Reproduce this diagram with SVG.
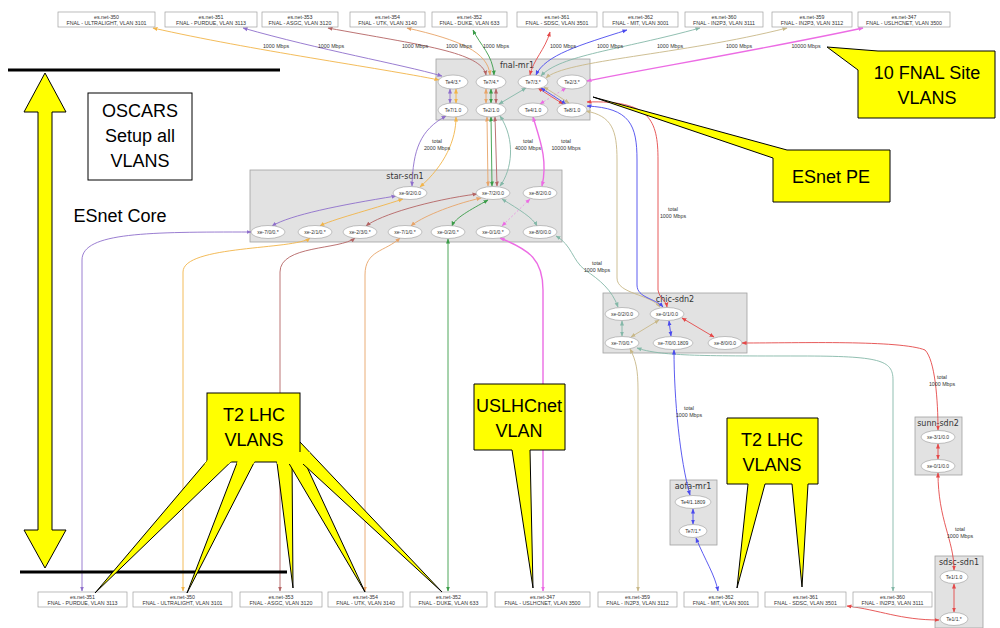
<svg xmlns="http://www.w3.org/2000/svg" width="1000" height="628" viewBox="0 0 1000 628">
<style>
.e{fill:none;stroke-width:0.9}
.ul{stroke:#f2b448}.pu{stroke:#8f6fcc}.as{stroke:#b46464}.ut{stroke:#e8a468}.du{stroke:#3a9c48}
.sd{stroke:#e44848}.mi{stroke:#4a4aee}.i1{stroke:#84b8a8}.i2{stroke:#c8b888}.us{stroke:#ec6ce4;stroke-width:1.4}
.cl{fill:#e2e2e2;stroke:#a0a0a0;stroke-width:0.8}
.el{fill:#fff;stroke:#9a9a9a;stroke-width:0.6}
.bx{fill:#fff;stroke:#a0a0a0;stroke-width:0.7}
.t{font-family:"Liberation Sans",Arial,sans-serif;font-size:5px;fill:#333;text-anchor:middle}
.b{font-family:"Liberation Sans",Arial,sans-serif;font-size:5.3px;fill:#333;text-anchor:middle}
.c{font-family:"DejaVu Sans","Liberation Sans",sans-serif;font-size:8px;fill:#333;text-anchor:middle}
.lb{font-family:"Liberation Sans",Arial,sans-serif;font-size:5.3px;fill:#333;text-anchor:middle}
.y{fill:#ffff00;stroke:#000;stroke-width:1}
.a{font-family:"Liberation Sans",Arial,sans-serif;font-size:18px;fill:#000;text-anchor:middle}
</style>
<defs>
<marker id="m-ul" viewBox="0 0 10 10" refX="9" refY="5" markerUnits="userSpaceOnUse" markerWidth="5" markerHeight="5" orient="auto-start-reverse"><path d="M0,1L10,5L0,9z" fill="#f2b448"/></marker>
<marker id="m-pu" viewBox="0 0 10 10" refX="9" refY="5" markerUnits="userSpaceOnUse" markerWidth="5" markerHeight="5" orient="auto-start-reverse"><path d="M0,1L10,5L0,9z" fill="#8f6fcc"/></marker>
<marker id="m-as" viewBox="0 0 10 10" refX="9" refY="5" markerUnits="userSpaceOnUse" markerWidth="5" markerHeight="5" orient="auto-start-reverse"><path d="M0,1L10,5L0,9z" fill="#b46464"/></marker>
<marker id="m-ut" viewBox="0 0 10 10" refX="9" refY="5" markerUnits="userSpaceOnUse" markerWidth="5" markerHeight="5" orient="auto-start-reverse"><path d="M0,1L10,5L0,9z" fill="#e8a468"/></marker>
<marker id="m-du" viewBox="0 0 10 10" refX="9" refY="5" markerUnits="userSpaceOnUse" markerWidth="5" markerHeight="5" orient="auto-start-reverse"><path d="M0,1L10,5L0,9z" fill="#3a9c48"/></marker>
<marker id="m-sd" viewBox="0 0 10 10" refX="9" refY="5" markerUnits="userSpaceOnUse" markerWidth="5" markerHeight="5" orient="auto-start-reverse"><path d="M0,1L10,5L0,9z" fill="#e44848"/></marker>
<marker id="m-mi" viewBox="0 0 10 10" refX="9" refY="5" markerUnits="userSpaceOnUse" markerWidth="5" markerHeight="5" orient="auto-start-reverse"><path d="M0,1L10,5L0,9z" fill="#4a4aee"/></marker>
<marker id="m-i1" viewBox="0 0 10 10" refX="9" refY="5" markerUnits="userSpaceOnUse" markerWidth="5" markerHeight="5" orient="auto-start-reverse"><path d="M0,1L10,5L0,9z" fill="#84b8a8"/></marker>
<marker id="m-i2" viewBox="0 0 10 10" refX="9" refY="5" markerUnits="userSpaceOnUse" markerWidth="5" markerHeight="5" orient="auto-start-reverse"><path d="M0,1L10,5L0,9z" fill="#c8b888"/></marker>
<marker id="m-us" viewBox="0 0 10 10" refX="9" refY="5" markerUnits="userSpaceOnUse" markerWidth="5" markerHeight="5" orient="auto-start-reverse"><path d="M0,1L10,5L0,9z" fill="#ec6ce4"/></marker>
<clipPath id="t2clip"><rect x="200" y="452" width="110" height="12"/></clipPath>
</defs>
<rect width="1000" height="628" fill="#fff"/>

<!-- clusters -->
<g id="cluster-fnal-mr1"><rect class="cl" x="436" y="59" width="154" height="61"/><text class="c" x="517" y="68">fnal-mr1</text></g>
<g id="cluster-star-sdn1"><rect class="cl" x="250" y="170" width="312" height="72"/><text class="c" x="405" y="179">star-sdn1</text></g>
<g id="cluster-chic-sdn2"><rect class="cl" x="603" y="293" width="144" height="60"/><text class="c" x="675" y="302">chic-sdn2</text></g>
<g id="cluster-sunn-sdn2"><rect class="cl" x="915" y="417" width="47" height="58"/><text class="c" x="938" y="426">sunn-sdn2</text></g>
<g id="cluster-aofa-mr1"><rect class="cl" x="670" y="480" width="47" height="65"/><text class="c" x="693" y="489">aofa-mr1</text></g>
<g id="cluster-sdsc-sdn1"><rect class="cl" x="935" y="556" width="48" height="72"/><text class="c" x="959" y="565">sdsc-sdn1</text></g>

<!-- connectors -->
<g id="connectors">
<path class="e ul" marker-start="url(#m-ul)" marker-end="url(#m-ul)" d="M153,28C250,50 380,68 439,80"/>
<path class="e pu" marker-start="url(#m-pu)" marker-end="url(#m-pu)" d="M243,28C320,50 400,64 442,76"/>
<path class="e as" marker-start="url(#m-as)" marker-end="url(#m-as)" d="M328,28C420,45 482,52 486,75"/>
<path class="e ut" marker-start="url(#m-ut)" marker-end="url(#m-ut)" d="M407,28C460,40 488,52 490,75"/>
<path class="e du" marker-start="url(#m-du)" marker-end="url(#m-du)" d="M473,30C480,45 493,55 494,75"/>
<path class="e sd" marker-start="url(#m-sd)" marker-end="url(#m-sd)" d="M550,32C545,50 533,60 530,75"/>
<path class="e mi" marker-start="url(#m-mi)" marker-end="url(#m-mi)" d="M627,30C580,45 545,55 536,75"/>
<path class="e i1" marker-start="url(#m-i1)" marker-end="url(#m-i1)" d="M700,28C620,50 560,55 541,76"/>
<path class="e i2" marker-start="url(#m-i2)" marker-end="url(#m-i2)" d="M787,28C680,55 565,60 546,78"/>
<path class="e us" marker-start="url(#m-us)" marker-end="url(#m-us)" d="M863,28C760,50 640,70 587,81"/>

<path class="e pu" marker-start="url(#m-pu)" marker-end="url(#m-pu)" d="M450,89L450,103"/>
<path class="e ul" marker-start="url(#m-ul)" marker-end="url(#m-ul)" d="M456,89L456,103"/>
<path class="e ut" marker-start="url(#m-ut)" marker-end="url(#m-ut)" d="M486,89L486,103"/>
<path class="e du" marker-start="url(#m-du)" marker-end="url(#m-du)" d="M491,89L491,103"/>
<path class="e as" marker-start="url(#m-as)" marker-end="url(#m-as)" d="M496,89L496,103"/>
<path class="e i1" marker-start="url(#m-i1)" marker-end="url(#m-i1)" d="M526,88L499,104"/>
<path class="e sd" marker-start="url(#m-sd)" marker-end="url(#m-sd)" d="M538,88L563,104"/>
<path class="e mi" marker-start="url(#m-mi)" marker-end="url(#m-mi)" d="M541,88L566,104"/>
<path class="e i2" marker-start="url(#m-i2)" marker-end="url(#m-i2)" d="M544,87L569,103"/>
<path class="e us" style="stroke-width:0.6;stroke-dasharray:2 2" marker-start="url(#m-us)" marker-end="url(#m-us)" d="M566,88L540,104"/>

<path class="e pu" marker-start="url(#m-pu)" marker-end="url(#m-pu)" d="M446,116C420,130 413,150 412,186"/>
<path class="e ul" marker-start="url(#m-ul)" marker-end="url(#m-ul)" d="M456,117C456,140 445,165 420,187"/>
<path class="e ut" marker-start="url(#m-ut)" marker-end="url(#m-ut)" d="M487,117L488,186"/>
<path class="e du" marker-start="url(#m-du)" marker-end="url(#m-du)" d="M491,117L492,186"/>
<path class="e as" marker-start="url(#m-as)" marker-end="url(#m-as)" d="M495,117L497,186"/>
<path class="e i1" marker-start="url(#m-i1)" marker-end="url(#m-i1)" d="M500,116C516,140 512,170 500,186"/>
<path class="e us" marker-start="url(#m-us)" marker-end="url(#m-us)" d="M533,117C540,140 548,160 542,186"/>
<path class="e i2" marker-start="url(#m-i2)" marker-end="url(#m-i2)" d="M586,111C612,116 617,130 617,160L617,278C617,294 650,294 660,307"/>
<path class="e mi" marker-start="url(#m-mi)" marker-end="url(#m-mi)" d="M587,106C630,108 637,125 637,160L637,285C637,298 655,298 663,307"/>
<path class="e sd" marker-start="url(#m-sd)" marker-end="url(#m-sd)" d="M587,102C650,100 658,120 658,160L658,290C660,300 666,300 667,307"/>

<path class="e pu" marker-start="url(#m-pu)" marker-end="url(#m-pu)" d="M396,196C340,205 290,215 272,226"/>
<path class="e ul" marker-start="url(#m-ul)" marker-end="url(#m-ul)" d="M403,199C370,210 330,220 320,226"/>
<path class="e as" marker-start="url(#m-as)" marker-end="url(#m-as)" d="M477,194C430,200 380,215 366,226"/>
<path class="e ut" marker-start="url(#m-ut)" marker-end="url(#m-ut)" d="M481,198C450,205 420,218 411,226"/>
<path class="e du" marker-start="url(#m-du)" marker-end="url(#m-du)" d="M488,200C470,210 455,218 452,226"/>
<path class="e i1" marker-start="url(#m-i1)" marker-end="url(#m-i1)" d="M502,199C520,210 533,218 537,226"/>
<path class="e us" style="stroke-width:0.6;stroke-dasharray:2 2" marker-start="url(#m-us)" marker-end="url(#m-us)" d="M530,199L502,226"/>

<path class="e pu" marker-start="url(#m-pu)" marker-end="url(#m-pu)" d="M251,232C150,232 82,232 82,260L82,591"/>
<path class="e ul" marker-start="url(#m-ul)" marker-end="url(#m-ul)" d="M310,238C295,250 183,245 183,272L183,591"/>
<path class="e as" marker-start="url(#m-as)" marker-end="url(#m-as)" d="M355,238C340,250 280,245 280,272L280,591"/>
<path class="e ut" marker-start="url(#m-ut)" marker-end="url(#m-ut)" d="M400,238C385,252 365,250 365,275L365,591"/>
<path class="e du" marker-start="url(#m-du)" marker-end="url(#m-du)" d="M448,239L448,591"/>
<path class="e us" marker-start="url(#m-us)" marker-end="url(#m-us)" d="M500,238C530,250 543,260 543,290L543,591"/>
<path class="e i1" marker-start="url(#m-i1)" marker-end="url(#m-i1)" d="M556,236C572,245 572,260 585,270C600,280 612,290 618,307"/>

<path class="e i2" marker-start="url(#m-i2)" marker-end="url(#m-i2)" d="M659,320L631,337"/>
<path class="e mi" marker-start="url(#m-mi)" marker-end="url(#m-mi)" d="M669,321L671,336"/>
<path class="e sd" marker-start="url(#m-sd)" marker-end="url(#m-sd)" d="M682,318L714,337"/>
<path class="e i1" marker-start="url(#m-i1)" marker-end="url(#m-i1)" d="M622,321L622,336"/>
<path class="e i2" marker-start="url(#m-i2)" marker-end="url(#m-i2)" d="M630,349C636,360 638,370 638,390L638,591"/>
<path class="e i1" marker-start="url(#m-i1)" marker-end="url(#m-i1)" d="M637,348C660,356 700,356 800,356C880,356 893,360 893,380L893,591"/>
<path class="e mi" marker-start="url(#m-mi)" marker-end="url(#m-mi)" d="M674,350C674,400 680,460 690,495"/>
<path class="e sd" marker-start="url(#m-sd)" marker-end="url(#m-sd)" d="M742,343C800,343 900,340 925,350C935,360 938,400 938,430"/>
<path class="e sd" marker-start="url(#m-sd)" marker-end="url(#m-sd)" d="M938,444L938,459"/>
<path class="e sd" marker-start="url(#m-sd)" marker-end="url(#m-sd)" d="M938,473C938,520 954,540 954,570"/>
<path class="e sd" marker-start="url(#m-sd)" marker-end="url(#m-sd)" d="M954,584L954,612"/>
<path class="e sd" marker-start="url(#m-sd)" marker-end="url(#m-sd)" d="M939,620C900,620 880,610 847,606"/>
<path class="e mi" marker-start="url(#m-mi)" marker-end="url(#m-mi)" d="M693,509L693,524"/>
<path class="e mi" marker-start="url(#m-mi)" marker-end="url(#m-mi)" d="M696,538C705,560 715,575 718,591"/>

<g class="lb">
<text x="276" y="48">1000 Mbps</text><text x="331" y="48">1000 Mbps</text><text x="415" y="48">1000 Mbps</text>
<text x="459" y="48">1000 Mbps</text><text x="496" y="48">1000 Mbps</text><text x="563" y="48">1000 Mbps</text>
<text x="610" y="48">1000 Mbps</text><text x="670" y="48">1000 Mbps</text><text x="739" y="48">1000 Mbps</text>
<text x="806" y="48">10000 Mbps</text>
<text x="437" y="143">total</text><text x="437" y="150">2000 Mbps</text>
<text x="528" y="143">total</text><text x="528" y="150">4000 Mbps</text>
<text x="566" y="143">total</text><text x="566" y="150">10000 Mbps</text>
<text x="673" y="211">total</text><text x="673" y="218">1000 Mbps</text>
<text x="597" y="265">total</text><text x="597" y="272">1000 Mbps</text>
<text x="689" y="410">total</text><text x="689" y="417">1000 Mbps</text>
<text x="942" y="379">total</text><text x="942" y="386">1000 Mbps</text>
<text x="960" y="531">total</text><text x="960" y="538">1000 Mbps</text>
</g>
</g>

<!-- ellipse nodes -->
<g id="fnal-Te4-3"><ellipse class="el" cx="453" cy="82" rx="15" ry="7"/><text class="t" x="453" y="84">Te4/3.*</text></g>
<g id="fnal-Te7-4"><ellipse class="el" cx="491" cy="82" rx="15" ry="7"/><text class="t" x="491" y="84">Te7/4.*</text></g>
<g id="fnal-Te7-3"><ellipse class="el" cx="533" cy="82" rx="15" ry="7"/><text class="t" x="533" y="84">Te7/3.*</text></g>
<g id="fnal-Te2-3"><ellipse class="el" cx="572" cy="82" rx="15" ry="7"/><text class="t" x="572" y="84">Te2/3.*</text></g>
<g id="fnal-Te7-1"><ellipse class="el" cx="453" cy="110" rx="15" ry="7"/><text class="t" x="453" y="112">Te7/1.0</text></g>
<g id="fnal-Te2-1"><ellipse class="el" cx="491" cy="110" rx="15" ry="7"/><text class="t" x="491" y="112">Te2/1.0</text></g>
<g id="fnal-Te4-1"><ellipse class="el" cx="533" cy="110" rx="15" ry="7"/><text class="t" x="533" y="112">Te4/1.0</text></g>
<g id="fnal-Te8-1"><ellipse class="el" cx="572" cy="110" rx="15" ry="7"/><text class="t" x="572" y="112">Te8/1.0</text></g>

<g id="star-xe-9-2"><ellipse class="el" cx="410" cy="193" rx="17" ry="6.5"/><text class="t" x="410" y="195">xe-9/2/0.0</text></g>
<g id="star-xe-7-2"><ellipse class="el" cx="493" cy="193" rx="17" ry="6.5"/><text class="t" x="493" y="195">xe-7/2/0.0</text></g>
<g id="star-xe-8-2"><ellipse class="el" cx="540" cy="193" rx="17" ry="6.5"/><text class="t" x="540" y="195">xe-8/2/0.0</text></g>
<g id="star-xe-7-0"><ellipse class="el" cx="268" cy="232" rx="17" ry="6.5"/><text class="t" x="268" y="234">xe-7/0/0.*</text></g>
<g id="star-xe-2-1"><ellipse class="el" cx="315" cy="232" rx="17" ry="6.5"/><text class="t" x="315" y="234">xe-2/1/0.*</text></g>
<g id="star-xe-2-3"><ellipse class="el" cx="360" cy="232" rx="17" ry="6.5"/><text class="t" x="360" y="234">xe-2/3/0.*</text></g>
<g id="star-xe-7-1"><ellipse class="el" cx="405" cy="232" rx="17" ry="6.5"/><text class="t" x="405" y="234">xe-7/1/0.*</text></g>
<g id="star-xe-0-2"><ellipse class="el" cx="448" cy="232" rx="17" ry="6.5"/><text class="t" x="448" y="234">xe-0/2/0.*</text></g>
<g id="star-xe-0-1"><ellipse class="el" cx="493" cy="232" rx="17" ry="6.5"/><text class="t" x="493" y="234">xe-0/1/0.*</text></g>
<g id="star-xe-8-0"><ellipse class="el" cx="540" cy="232" rx="17" ry="6.5"/><text class="t" x="540" y="234">xe-8/0/0.0</text></g>

<g id="chic-xe-0-2"><ellipse class="el" cx="622" cy="314" rx="17" ry="6.5"/><text class="t" x="622" y="316">xe-0/2/0.0</text></g>
<g id="chic-xe-0-1"><ellipse class="el" cx="667" cy="314" rx="17" ry="6.5"/><text class="t" x="667" y="316">xe-0/1/0.0</text></g>
<g id="chic-xe-7-0"><ellipse class="el" cx="622" cy="343" rx="17" ry="6.5"/><text class="t" x="622" y="345">xe-7/0/0.*</text></g>
<g id="chic-xe-7-0-1809"><ellipse class="el" cx="673" cy="343" rx="20" ry="6.5"/><text class="t" x="673" y="345">xe-7/0/0.1809</text></g>
<g id="chic-xe-8-0"><ellipse class="el" cx="725" cy="343" rx="17" ry="6.5"/><text class="t" x="725" y="345">xe-8/0/0.0</text></g>

<g id="sunn-xe-3-1"><ellipse class="el" cx="938" cy="437" rx="17" ry="6.5"/><text class="t" x="938" y="439">xe-3/1/0.0</text></g>
<g id="sunn-xe-0-1"><ellipse class="el" cx="938" cy="466" rx="17" ry="6.5"/><text class="t" x="938" y="468">xe-0/1/0.0</text></g>
<g id="aofa-Te4-1"><ellipse class="el" cx="693" cy="502" rx="18" ry="6.5"/><text class="t" x="693" y="504">Te4/1.1809</text></g>
<g id="aofa-Te7-1"><ellipse class="el" cx="693" cy="531" rx="14" ry="6.5"/><text class="t" x="693" y="533">Te7/1.*</text></g>
<g id="sdsc-Te1-1-0"><ellipse class="el" cx="954" cy="577" rx="14" ry="6.5"/><text class="t" x="954" y="579">Te1/1.0</text></g>
<g id="sdsc-Te1-1-x"><ellipse class="el" cx="954" cy="619" rx="14" ry="6.5"/><text class="t" x="954" y="621">Te1/1.*</text></g>

<!-- top boxes -->
<g id="top-350"><rect class="bx" x="58" y="12" width="97" height="15"/><text class="b" x="106.5" y="18.5">es.net-350</text><text class="b" x="106.5" y="25">FNAL - ULTRALIGHT, VLAN 3101</text></g>
<g id="top-351"><rect class="bx" x="165" y="12" width="92" height="15"/><text class="b" x="211" y="18.5">es.net-351</text><text class="b" x="211" y="25">FNAL - PURDUE, VLAN 3113</text></g>
<g id="top-353"><rect class="bx" x="262" y="12" width="76" height="15"/><text class="b" x="300" y="18.5">es.net-353</text><text class="b" x="300" y="25">FNAL - ASGC, VLAN 3120</text></g>
<g id="top-354"><rect class="bx" x="350" y="12" width="75" height="15"/><text class="b" x="387.5" y="18.5">es.net-354</text><text class="b" x="387.5" y="25">FNAL - UTK, VLAN 3140</text></g>
<g id="top-352"><rect class="bx" x="432" y="12" width="75" height="15"/><text class="b" x="469.5" y="18.5">es.net-352</text><text class="b" x="469.5" y="25">FNAL - DUKE, VLAN 633</text></g>
<g id="top-361"><rect class="bx" x="517" y="12" width="80" height="15"/><text class="b" x="557" y="18.5">es.net-361</text><text class="b" x="557" y="25">FNAL - SDSC, VLAN 3501</text></g>
<g id="top-362"><rect class="bx" x="603" y="12" width="75" height="15"/><text class="b" x="640.5" y="18.5">es.net-362</text><text class="b" x="640.5" y="25">FNAL - MIT, VLAN 3001</text></g>
<g id="top-360"><rect class="bx" x="685" y="12" width="78" height="15"/><text class="b" x="724" y="18.5">es.net-360</text><text class="b" x="724" y="25">FNAL - IN2P3, VLAN 3111</text></g>
<g id="top-359"><rect class="bx" x="772" y="12" width="80" height="15"/><text class="b" x="812" y="18.5">es.net-359</text><text class="b" x="812" y="25">FNAL - IN2P3, VLAN 3112</text></g>
<g id="top-347"><rect class="bx" x="858" y="12" width="92" height="15"/><text class="b" x="904" y="18.5">es.net-347</text><text class="b" x="904" y="25">FNAL - USLHCNET, VLAN 3500</text></g>

<!-- bottom boxes -->
<g id="bot-351"><rect class="bx" x="38" y="592" width="89" height="15"/><text class="b" x="82.5" y="598.5">es.net-351</text><text class="b" x="82.5" y="605">FNAL - PURDUE, VLAN 3113</text></g>
<g id="bot-350"><rect class="bx" x="133" y="592" width="99" height="15"/><text class="b" x="182.5" y="598.5">es.net-350</text><text class="b" x="182.5" y="605">FNAL - ULTRALIGHT, VLAN 3101</text></g>
<g id="bot-353"><rect class="bx" x="240" y="592" width="82" height="15"/><text class="b" x="281" y="598.5">es.net-353</text><text class="b" x="281" y="605">FNAL - ASGC, VLAN 3120</text></g>
<g id="bot-354"><rect class="bx" x="328" y="592" width="75" height="15"/><text class="b" x="365.5" y="598.5">es.net-354</text><text class="b" x="365.5" y="605">FNAL - UTK, VLAN 3140</text></g>
<g id="bot-352"><rect class="bx" x="410" y="592" width="77" height="15"/><text class="b" x="448.5" y="598.5">es.net-352</text><text class="b" x="448.5" y="605">FNAL - DUKE, VLAN 633</text></g>
<g id="bot-347"><rect class="bx" x="495" y="592" width="95" height="15"/><text class="b" x="542.5" y="598.5">es.net-347</text><text class="b" x="542.5" y="605">FNAL - USLHCNET, VLAN 3500</text></g>
<g id="bot-359"><rect class="bx" x="598" y="592" width="79" height="15"/><text class="b" x="637.5" y="598.5">es.net-359</text><text class="b" x="637.5" y="605">FNAL - IN2P3, VLAN 3112</text></g>
<g id="bot-362"><rect class="bx" x="684" y="592" width="74" height="15"/><text class="b" x="721" y="598.5">es.net-362</text><text class="b" x="721" y="605">FNAL - MIT, VLAN 3001</text></g>
<g id="bot-361"><rect class="bx" x="765" y="592" width="81" height="15"/><text class="b" x="805.5" y="598.5">es.net-361</text><text class="b" x="805.5" y="605">FNAL - SDSC, VLAN 3501</text></g>
<g id="bot-360"><rect class="bx" x="853" y="592" width="79" height="15"/><text class="b" x="892.5" y="598.5">es.net-360</text><text class="b" x="892.5" y="605">FNAL - IN2P3, VLAN 3111</text></g>

<!-- annotations -->
<g id="annotations">
<line x1="8" y1="70" x2="280" y2="70" stroke="#000" stroke-width="3"/>
<line x1="20" y1="572" x2="287" y2="572" stroke="#000" stroke-width="3"/>
<polygon class="y" points="45,73 66,112 52,112 52,530 66,530 45,568 24,530 38,530 38,112 24,112"/>
<rect x="88" y="93" width="104" height="87" fill="#fff" stroke="#000" stroke-width="1"/>
<text class="a" x="140" y="117">OSCARS</text><text class="a" x="140" y="142">Setup all</text><text class="a" x="140" y="167">VLANS</text>
<text class="a" x="120" y="222">ESnet Core</text>

<g id="callout-fnal-site"><polygon class="y" points="827,47 878,51 995,51 995,118 858,118 858,70"/>
<text class="a" x="927" y="79">10 FNAL Site</text><text class="a" x="927" y="104">VLANS</text></g>
<g id="callout-esnet-pe"><polygon class="y" points="593,97 787,150 890,150 890,202 773,202 773,158"/>
<text class="a" x="831" y="183">ESnet PE</text></g>
<g id="callout-uslhcnet"><polygon class="y" points="474,384 565,384 565,450 530,450 533,588 512,450 474,450"/>
<text class="a" x="519" y="412">USLHCnet</text><text class="a" x="519" y="437">VLAN</text></g>
<g id="callout-t2-right"><polygon class="y" points="727,418 818,418 818,484 808,484 802,587 792,484 765,484 737,588 748,484 727,484"/>
<text class="a" x="772" y="446">T2 LHC</text><text class="a" x="772" y="471">VLANS</text></g>
<g id="callout-t2-left">
<polygon class="y" points="212,455 238,455 95,593"/>
<polygon class="y" points="240,455 258,455 187,593"/>
<polygon class="y" points="276,455 292,455 293,588"/>
<polygon class="y" points="284,455 300,452 365,592"/>
<polygon class="y" points="290,452 300,442 442,592"/>
<rect class="y" x="207" y="393" width="93" height="69"/>
<g clip-path="url(#t2clip)" fill="#ffff00">
<polygon points="212,455 238,455 95,593"/>
<polygon points="240,455 258,455 187,593"/>
<polygon points="276,455 292,455 293,588"/>
<polygon points="284,455 300,452 365,592"/>
<polygon points="290,452 300,442 442,592"/>
</g>
<text class="a" x="254" y="421">T2 LHC</text><text class="a" x="254" y="446">VLANS</text></g>
</g>
</svg>
